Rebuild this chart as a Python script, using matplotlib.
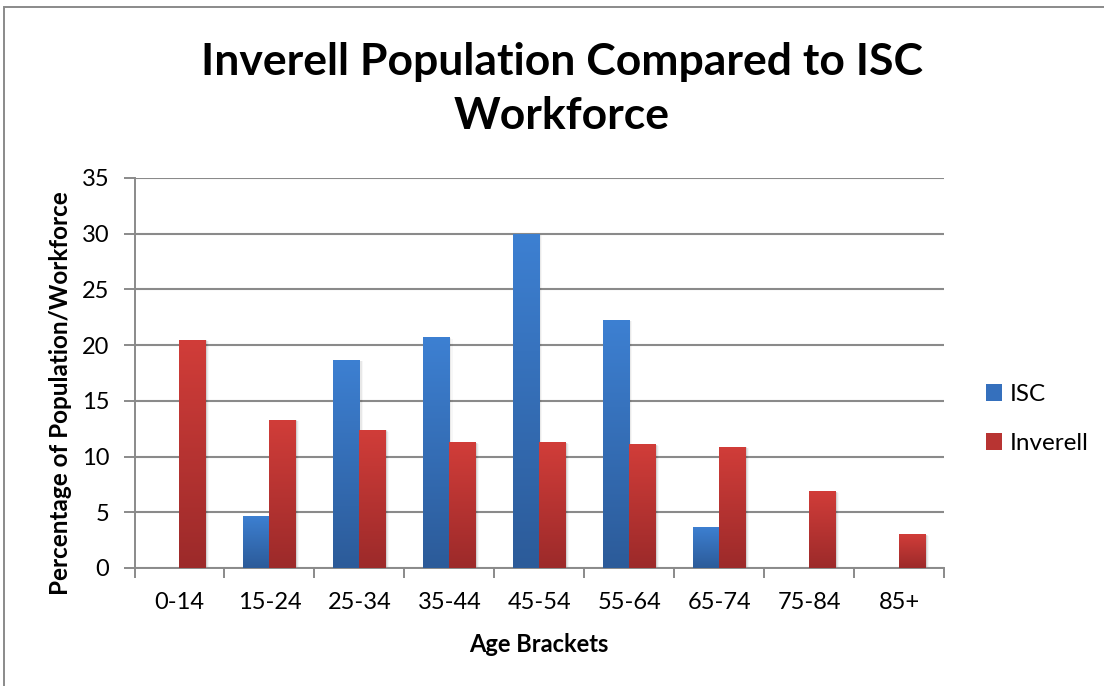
import matplotlib
matplotlib.use("Agg")
import matplotlib.pyplot as plt
import numpy as np
from matplotlib.patches import Rectangle, Patch
from matplotlib.colors import LinearSegmentedColormap

categories = ["0-14", "15-24", "25-34", "35-44", "45-54", "55-64", "65-74", "75-84", "85+"]
isc = [0, 4.7, 18.7, 20.7, 30.0, 22.3, 3.7, 0, 0]
inverell = [20.5, 13.3, 12.4, 11.3, 11.3, 11.1, 10.9, 6.9, 3.05]
series_names = ["ISC", "Inverell"]
yticks = [0, 5, 10, 15, 20, 25, 30, 35]

FONT = ["Lato", "DejaVu Sans"]
plt.rcParams['font.family'] = FONT

W, H = 1104, 686
fig = plt.figure(figsize=(W / 100, H / 100), dpi=100)
fig.patch.set_facecolor("white")

# outer chart frame
fig.add_artist(Rectangle((4 / W, -0.05), 1.2, 1.05 - 7 / H, transform=fig.transFigure,
                         fill=False, edgecolor="#8a8a8a", lw=1.4))

ax = fig.add_axes([134.5 / W, 1 - 568 / H, (944 - 134.5) / W, (568 - 178) / H])

x = np.arange(len(categories))
bw = 0.295

blue_cmap = LinearSegmentedColormap.from_list("b", ["#2c5b99", "#3d80d2"])
red_cmap = LinearSegmentedColormap.from_list("r", ["#9c2a2a", "#d13d39"])

grad = np.linspace(0, 1, 256).reshape(-1, 1)

def gradient_bars(bars, cmap):
    for b in bars:
        h = b.get_height()
        if h <= 0:
            continue
        x0, y0, w = b.get_x(), b.get_y(), b.get_width()
        # soft shadow
        for k, a in enumerate([0.10, 0.06, 0.03]):
            d = 0.012 * (k + 1)
            sh = Rectangle((x0 + d, y0), w, h - 0.05 * (k + 1), facecolor="black", alpha=a,
                           edgecolor="none", zorder=2.5)
            ax.add_patch(sh)
        im = ax.imshow(grad, extent=(x0, x0 + w, y0, y0 + h), origin="lower",
                       cmap=cmap, aspect="auto", zorder=3, interpolation="bilinear")
        im.set_clip_path(b)
        b.set_facecolor("none")

b1 = ax.bar(x - bw / 2, isc, bw, color="#3570bd", zorder=3, linewidth=0)
b2 = ax.bar(x + bw / 2, inverell, bw, color="#c03735", zorder=3, linewidth=0)
gradient_bars(b1, blue_cmap)
gradient_bars(b2, red_cmap)

ax.set_xlim(-0.5, len(categories) - 0.5)
ax.set_ylim(0, 35)
ax.set_yticks(yticks)
ax.set_yticklabels([str(v) for v in yticks], fontsize=17)
ax.set_xticks(x)
ax.set_xticklabels(categories, fontsize=17)
ax.set_xticks(np.arange(-0.5, len(categories), 1), minor=True)
ax.tick_params(axis="x", which="major", length=0, pad=17)
ax.tick_params(axis="x", which="minor", length=7, width=1.4, color="#8a8a8a")
ax.tick_params(axis="y", length=8, width=1.4, color="#8a8a8a", pad=10)

ax.yaxis.grid(True, color="#8a8a8a", lw=1.5, zorder=1)
ax.set_axisbelow(True)
for s in ["top", "right"]:
    ax.spines[s].set_visible(False)
for s in ["left", "bottom"]:
    ax.spines[s].set_color("#8a8a8a")
    ax.spines[s].set_linewidth(1.4)

ax.set_xlabel("Age Brackets", fontsize=17, fontweight="bold", labelpad=15)
fig.text(61 / W, 1 - 393 / H, "Percentage of Population/Workforce", rotation=90,
         ha="center", va="center", fontsize=17.5, fontweight="bold")

fig.text(562 / W, 1 - 89 / H, "Inverell Population Compared to ISC\nWorkforce",
         ha="center", va="center", fontsize=32, fontweight="bold", linespacing=1.45)

handles = [Patch(facecolor="#3570bd"), Patch(facecolor="#b83432")]
leg = ax.legend(handles, series_names, loc="center left", bbox_to_anchor=(964 / W, 1 - 419 / H),
                bbox_transform=fig.transFigure, frameon=False, fontsize=17.5,
                labelspacing=1.15, handlelength=0.65, handleheight=0.65, handletextpad=0.35)

fig.savefig("out.png", dpi=100)
